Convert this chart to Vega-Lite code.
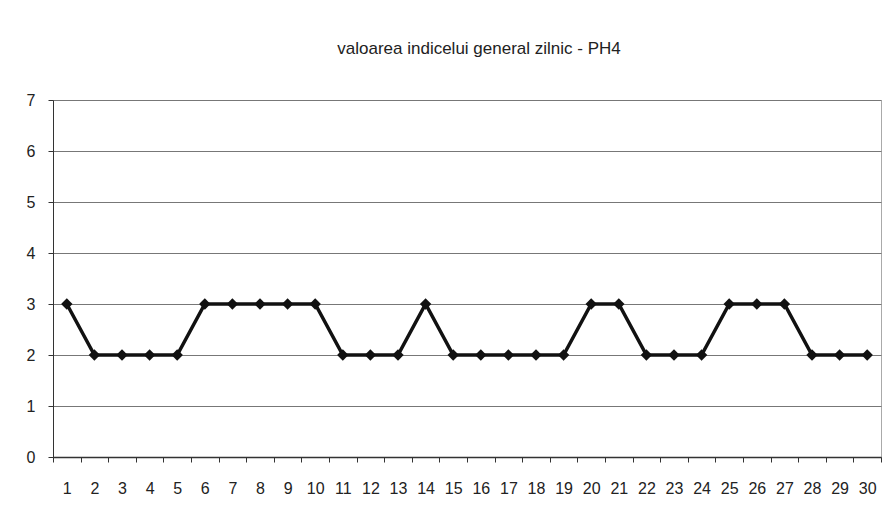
{
  "$schema": "https://vega.github.io/schema/vega-lite/v6.json",
  "autosize": "none",
  "width": 828,
  "height": 357,
  "padding": {"left": 53, "top": 100, "right": 15, "bottom": 59},
  "background": "white",
  "title": {
    "text": "valoarea indicelui general zilnic - PH4",
    "font": "Liberation Sans",
    "fontSize": 17,
    "fontWeight": "normal",
    "color": "#222222",
    "anchor": "middle",
    "dx": 12,
    "offset": 34
  },
  "config": {
    "view": {"stroke": "#aaaaaa", "strokeWidth": 1},
    "axis": {
      "labelFont": "Liberation Sans",
      "labelFontSize": 16,
      "labelColor": "#222222",
      "domainColor": "#333333",
      "tickColor": "#333333",
      "grid": false
    }
  },
  "data": {
    "values": [
      {"day": 1, "v": 3}, {"day": 2, "v": 2}, {"day": 3, "v": 2}, {"day": 4, "v": 2},
      {"day": 5, "v": 2}, {"day": 6, "v": 3}, {"day": 7, "v": 3}, {"day": 8, "v": 3},
      {"day": 9, "v": 3}, {"day": 10, "v": 3}, {"day": 11, "v": 2}, {"day": 12, "v": 2},
      {"day": 13, "v": 2}, {"day": 14, "v": 3}, {"day": 15, "v": 2}, {"day": 16, "v": 2},
      {"day": 17, "v": 2}, {"day": 18, "v": 2}, {"day": 19, "v": 2}, {"day": 20, "v": 3},
      {"day": 21, "v": 3}, {"day": 22, "v": 2}, {"day": 23, "v": 2}, {"day": 24, "v": 2},
      {"day": 25, "v": 3}, {"day": 26, "v": 3}, {"day": 27, "v": 3}, {"day": 28, "v": 2},
      {"day": 29, "v": 2}, {"day": 30, "v": 2}
    ]
  },
  "encoding": {
    "x": {
      "field": "day",
      "type": "ordinal",
      "scale": {"type": "band", "paddingInner": 0, "paddingOuter": 0},
      "axis": {
        "title": null,
        "labelAngle": 0,
        "tickBand": "extent",
        "tickSize": 5,
        "labelPadding": 18,
        "domainWidth": 1.5
      }
    },
    "y": {
      "field": "v",
      "type": "quantitative",
      "scale": {"domain": [0, 7]},
      "axis": {
        "title": null,
        "values": [0, 1, 2, 3, 4, 5, 6, 7],
        "grid": true,
        "gridColor": "#777777",
        "gridWidth": 1,
        "tickSize": 5,
        "labelPadding": 13,
        "domainWidth": 1
      }
    }
  },
  "layer": [
    {
      "mark": {"type": "line", "color": "#111111", "strokeWidth": 3.5}
    },
    {
      "mark": {"type": "point", "shape": "diamond", "filled": true, "color": "#111111", "size": 130, "opacity": 1}
    }
  ]
}
